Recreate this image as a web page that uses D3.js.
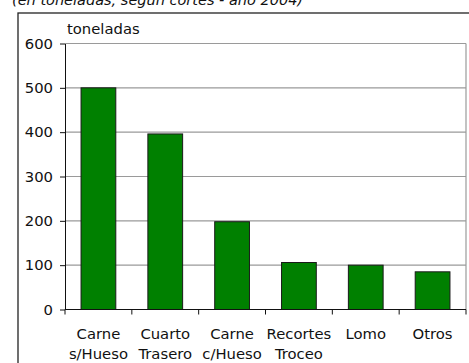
<!DOCTYPE html>
<html>
<head>
<meta charset="utf-8">
<script src="https://cdn.jsdelivr.net/npm/d3@7/dist/d3.min.js"></script>
<style>
  html, body { margin: 0; padding: 0; background: #fff; }
  svg { display: block; }
  text { font-family: "DejaVu Sans", Verdana, sans-serif; fill: #111; }
</style>
</head>
<body>
<script>
// Volumen por corte (toneladas)
const categories = [
  ["Carne", "s/Hueso"],
  ["Cuarto", "Trasero"],
  ["Carne", "c/Hueso"],
  ["Recortes", "Troceo"],
  ["Lomo"],
  ["Otros"]
];
const values = [500, 396, 198, 106, 100, 85];
const yTicks = [0, 100, 200, 300, 400, 500, 600];
const subtitle = "(en toneladas, según cortes - año 2004)";
const unitLabel = "toneladas";

const W = 469, H = 363;
const FS = 14.8;
const svg = d3.select("body").append("svg").attr("width", W).attr("height", H);

const plot = { left: 65, right: 466, top: 43.5, bottom: 309.5 };

const x = d3.scaleBand()
  .domain(d3.range(categories.length))
  .range([plot.left, plot.right])
  .paddingInner(0.48)
  .paddingOuter(0.24);

const y = d3.scaleLinear().domain([0, 600]).range([plot.bottom, plot.top]);

// outer frame
svg.append("rect")
  .attr("x", 18).attr("y", 13)
  .attr("width", W + 10).attr("height", H + 10)
  .attr("fill", "none").attr("stroke", "#222").attr("stroke-width", 1.3);

// subtitle (partly outside the top edge)
svg.append("text")
  .attr("x", 12).attr("y", 5)
  .attr("font-size", 14.5).attr("font-style", "italic")
  .text(subtitle);

// horizontal gridlines
svg.append("g")
  .selectAll("line")
  .data(yTicks.filter(d => d > 0))
  .join("line")
  .attr("x1", plot.left).attr("x2", plot.right)
  .attr("y1", d => y(d)).attr("y2", d => y(d))
  .attr("stroke", "#9a9a9a").attr("stroke-width", 1.2);

// right border of plot area
svg.append("line")
  .attr("x1", plot.right).attr("x2", plot.right)
  .attr("y1", plot.top).attr("y2", plot.bottom)
  .attr("stroke", "#9a9a9a").attr("stroke-width", 1.2);

// bars
svg.append("g")
  .selectAll("rect")
  .data(values)
  .join("rect")
  .attr("x", (d, i) => x(i))
  .attr("width", x.bandwidth())
  .attr("y", d => y(d))
  .attr("height", d => y(0) - y(d))
  .attr("fill", "#008000")
  .attr("stroke", "#1a1a1a")
  .attr("stroke-width", 1);

// y axis
const yAxis = svg.append("g")
  .attr("transform", `translate(${plot.left},0)`)
  .call(d3.axisLeft(y).tickValues(yTicks).tickSize(5).tickPadding(7).tickSizeOuter(0));
yAxis.select(".domain").attr("stroke", "#111");
yAxis.selectAll(".tick line").attr("stroke", "#111");
yAxis.selectAll("text").attr("font-size", FS).attr("font-family", "DejaVu Sans, sans-serif").attr("fill", "#111");

// x axis line with ticks at category boundaries
const xAxis = svg.append("g");
xAxis.append("line")
  .attr("x1", plot.left).attr("x2", plot.right)
  .attr("y1", y(0)).attr("y2", y(0))
  .attr("stroke", "#111");
const bounds = d3.range(categories.length + 1).map(i => plot.left + i * x.step());
xAxis.selectAll("line.tk")
  .data(bounds)
  .join("line")
  .attr("class", "tk")
  .attr("x1", d => d).attr("x2", d => d)
  .attr("y1", y(0)).attr("y2", y(0) + 5)
  .attr("stroke", "#111");

// category labels
const lab = svg.append("g")
  .selectAll("text")
  .data(categories)
  .join("text")
  .attr("text-anchor", "middle")
  .attr("font-size", FS);
lab.selectAll("tspan")
  .data((d, i) => d.map(s => ({ s, i })))
  .join("tspan")
  .attr("x", d => x(d.i) + x.bandwidth() / 2)
  .attr("y", (d, j) => 339 + j * 20)
  .text(d => d.s);

// unit label
svg.append("text")
  .attr("x", 67).attr("y", 34)
  .attr("font-size", FS)
  .text(unitLabel);
</script>
</body>
</html>
